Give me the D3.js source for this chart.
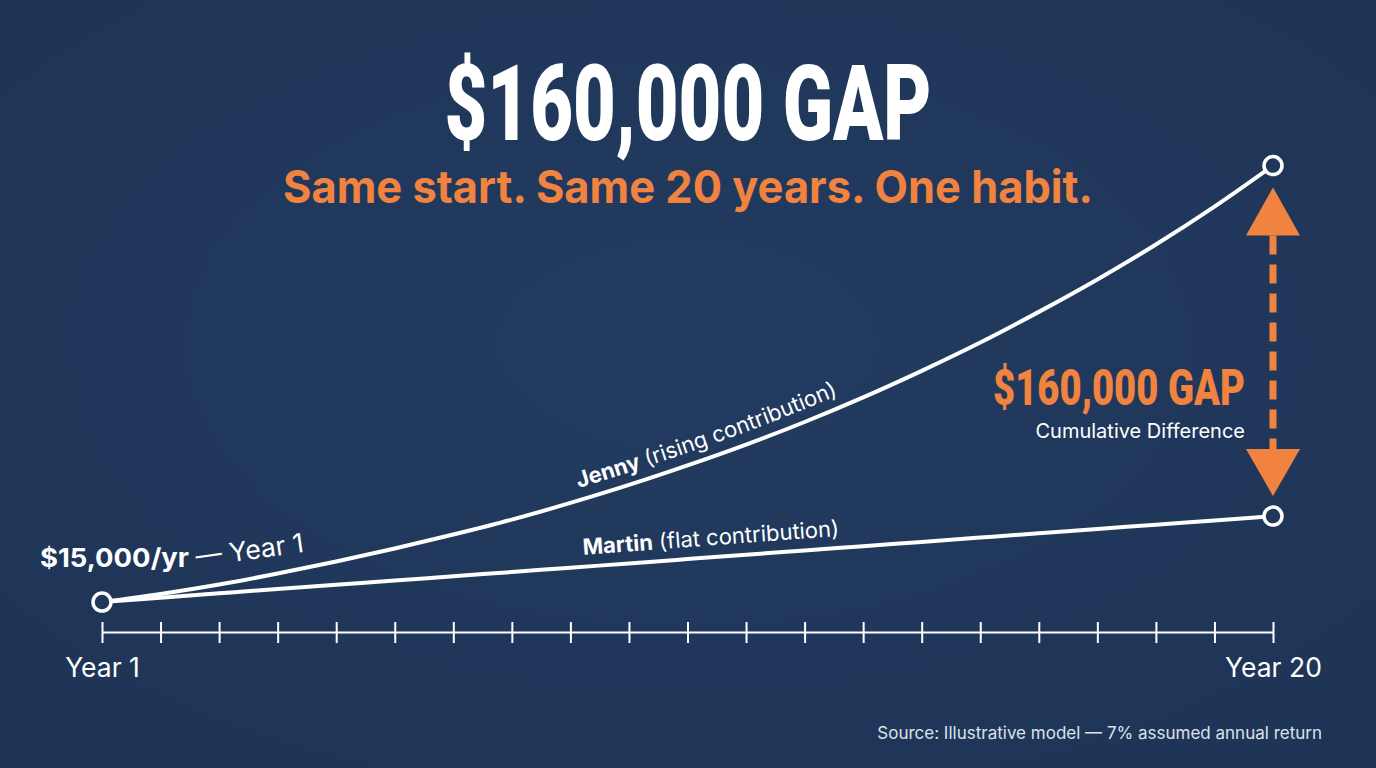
<!DOCTYPE html>
<html>
<head>
<meta charset="utf-8">
<script src="https://cdn.jsdelivr.net/npm/d3@7"></script>
<style>
  html, body { margin: 0; padding: 0; background: #20375A; }
  svg { display: block; }
</style>
</head>
<body>
<svg id="chart" width="1376" height="768"></svg>
<script>
// ---------- data ----------
const steps = [0,1,2,3,4,5,6,7,8,9,10,11,12,13,14,15,16,17,18,19,20];
const jennyValues = [15000,18700,23000,28000,33500,39400,45800,52600,60200,68400,77300,86800,97100,108300,120400,133300,147300,162100,178000,195300,214000];
const martinValues = [15000,17000,19000,21000,22900,24800,26800,28700,30700,32600,34600,36600,38500,40500,42400,44400,46400,48300,50300,52200,54200];
const tickLabels = {0: "Year 1", 20: "Year 20"};
const titleText = "$160,000 GAP";
const subtitleText = "Same start. Same 20 years. One habit.";
const gapText = "$160,000 GAP";
const gapSubText = "Cumulative Difference";
const startLabelBold = "$15,000/yr";
const startLabelRest = "— Year 1";
const jennyName = "Jenny", jennyNote = " (rising contribution)";
const martinName = "Martin", martinNote = " (flat contribution)";
const sourceText = "Source: Illustrative model — 7% assumed annual return";

// ---------- setup ----------
const W = 1376, H = 768;
const ORANGE = "#F0833F";
const BG = "#20375A";
const svg = d3.select("#chart");

const defs = svg.append("defs");
const grad = defs.append("radialGradient").attr("id","bg").attr("cx","50%").attr("cy","45%").attr("r","75%");
grad.append("stop").attr("offset","0%").attr("stop-color","#223B60");
grad.append("stop").attr("offset","100%").attr("stop-color","#1E3456");
svg.append("rect").attr("width",W).attr("height",H).attr("fill","url(#bg)");

const x = d3.scaleLinear().domain([0,20]).range([102,1273]);
const y = d3.scaleLinear().domain([0,220000]).range([635,152.4]);

// ---------- titles ----------
svg.append("text")
  .attr("x", 688).attr("y", 140)
  .attr("text-anchor","middle")
  .attr("font-family","Roboto, 'Liberation Sans', sans-serif")
  .attr("font-weight",900)
  .attr("font-size",106)
  .attr("textLength",487).attr("lengthAdjust","spacingAndGlyphs")
  .attr("fill","#ffffff")
  .text(titleText);

svg.append("text")
  .attr("x", 688).attr("y", 203)
  .attr("text-anchor","middle")
  .attr("font-family","Inter, Roboto, sans-serif")
  .attr("font-weight",700)
  .attr("font-size",45)
  .attr("textLength",810).attr("lengthAdjust","spacingAndGlyphs")
  .attr("fill",ORANGE)
  .text(subtitleText);

// ---------- axis ----------
const axisY = 632;
const axis = d3.axisBottom(x)
  .tickValues(steps)
  .tickSizeOuter(0)
  .tickFormat(d => tickLabels[d] || "");
const gAxis = svg.append("g").attr("transform",`translate(0,${axisY})`).call(axis);
gAxis.select(".domain").attr("stroke","#ffffff").attr("stroke-width",2);
gAxis.selectAll(".tick line").attr("stroke","#ffffff").attr("stroke-width",2).attr("y1",-10).attr("y2",11);
gAxis.selectAll(".tick text")
  .attr("fill","#ffffff")
  .attr("font-family","Inter, Roboto, sans-serif")
  .attr("font-size",26.5)
  .attr("y",45).attr("dy",0);

// ---------- lines ----------
const line = d3.line().x((d,i) => x(steps[i])).y(d => y(d)).curve(d3.curveCatmullRom.alpha(0.5));

const martinPath = svg.append("path")
  .attr("id","martinPath")
  .attr("d", line(martinValues))
  .attr("fill","none").attr("stroke","#ffffff").attr("stroke-width",4).attr("stroke-linecap","round");

const jennyPath = svg.append("path")
  .attr("id","jennyPath")
  .attr("d", line(jennyValues))
  .attr("fill","none").attr("stroke","#ffffff").attr("stroke-width",4).attr("stroke-linecap","round");

function lengthAtX(pathNode, targetX) {
  let lo = 0, hi = pathNode.getTotalLength();
  for (let k = 0; k < 40; k++) {
    const mid = (lo + hi) / 2;
    if (pathNode.getPointAtLength(mid).x < targetX) lo = mid; else hi = mid;
  }
  return lo;
}

// Jenny label along curve
const jt = svg.append("text")
  .attr("font-family","Inter, Roboto, sans-serif")
  .attr("font-size",22)
  .attr("fill","#ffffff");
const jtp = jt.append("textPath")
  .attr("href","#jennyPath")
  .attr("startOffset", lengthAtX(jennyPath.node(), 582));
jtp.append("tspan").attr("dy",-12).attr("font-weight",700).text(jennyName);
jtp.append("tspan").text(jennyNote);

// Martin label along line
const mt = svg.append("text")
  .attr("font-family","Inter, Roboto, sans-serif")
  .attr("font-size",22)
  .attr("fill","#ffffff");
const mtp = mt.append("textPath")
  .attr("href","#martinPath")
  .attr("startOffset", lengthAtX(martinPath.node(), 584));
mtp.append("tspan").attr("dy",-12).attr("font-weight",700).text(martinName);
mtp.append("tspan").text(martinNote);

// ---------- endpoint circles ----------
const endpoints = [
  {i: 0, v: jennyValues[0]},
  {i: 20, v: jennyValues[20]},
  {i: 20, v: martinValues[20]}
];
svg.selectAll("circle.pt").data(endpoints).join("circle")
  .attr("class","pt")
  .attr("cx", d => x(steps[d.i])).attr("cy", d => y(d.v))
  .attr("r", 9)
  .attr("fill", BG).attr("stroke","#ffffff").attr("stroke-width",3.5);

// ---------- start label ----------
svg.append("text")
  .attr("x", 40).attr("y", 567)
  .attr("font-family","Inter, Roboto, sans-serif")
  .attr("font-weight",700).attr("font-size",26)
  .attr("textLength",149).attr("lengthAdjust","spacingAndGlyphs")
  .attr("fill","#ffffff")
  .text(startLabelBold);
svg.append("text")
  .attr("transform","translate(197,567) rotate(-8)")
  .attr("font-family","Inter, Roboto, sans-serif")
  .attr("font-weight",400).attr("font-size",26.5)
  .attr("fill","#ffffff")
  .text(startLabelRest);

// ---------- gap arrow ----------
const gx = x(20);
const topY = y(jennyValues[20]), botY = y(martinValues[20]);
const upTip = topY + 22, upBase = topY + 70;
const dnTip = botY - 20, dnBase = botY - 67;
svg.append("line")
  .attr("x1",gx).attr("x2",gx).attr("y1",upBase).attr("y2",dnBase)
  .attr("stroke",ORANGE).attr("stroke-width",7).attr("stroke-dasharray","19 10");
svg.append("path")
  .attr("d",`M${gx},${upTip} L${gx+27},${upBase} L${gx-27},${upBase} Z`)
  .attr("fill",ORANGE);
svg.append("path")
  .attr("d",`M${gx},${dnTip} L${gx+27},${dnBase} L${gx-27},${dnBase} Z`)
  .attr("fill",ORANGE);

svg.append("text")
  .attr("x",1245).attr("y",405)
  .attr("text-anchor","end")
  .attr("font-family","Roboto, 'Liberation Sans', sans-serif")
  .attr("font-weight",900).attr("font-size",50)
  .attr("textLength",252).attr("lengthAdjust","spacingAndGlyphs")
  .attr("fill",ORANGE)
  .text(gapText);
svg.append("text")
  .attr("x",1245).attr("y",438)
  .attr("text-anchor","end")
  .attr("font-family","Inter, Roboto, sans-serif")
  .attr("font-size",20)
  .attr("fill","#ffffff")
  .text(gapSubText);

// ---------- source ----------
svg.append("text")
  .attr("x",1322).attr("y",739)
  .attr("text-anchor","end")
  .attr("font-family","Inter, Roboto, sans-serif")
  .attr("font-size",17)
  .attr("fill","#DCE2EA")
  .text(sourceText);
</script>
</body>
</html>
